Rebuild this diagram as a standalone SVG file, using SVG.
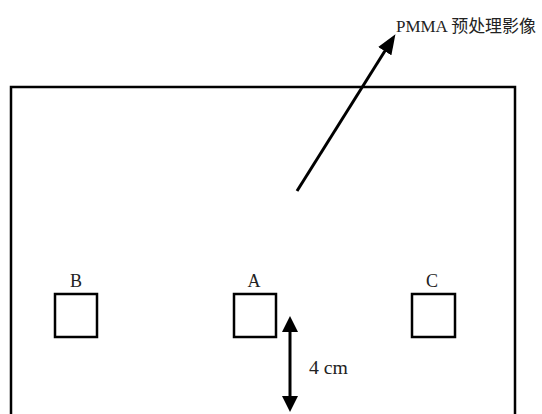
<svg xmlns="http://www.w3.org/2000/svg" width="542" height="414" viewBox="0 0 542 414">
<defs>
<style>
.box{fill:none;stroke:#000;stroke-width:2.5}
.frame{fill:none;stroke:#000;stroke-width:2.5}
.conn{stroke:#000;stroke-width:3;fill:none}
.lbl{font-family:"Liberation Serif","Noto Sans CJK SC",serif;font-size:18px;fill:#222}
.cap{font-family:"Liberation Serif","Noto Sans CJK SC",sans-serif;font-size:17px;fill:#222}
</style>
<marker id="ah" markerUnits="userSpaceOnUse" markerWidth="20" markerHeight="16" viewBox="0 0 18 14" refX="10" refY="7" orient="auto-start-reverse">
<path d="M0,0 L18,7 L0,14 z" fill="#000"/>
</marker>
<marker id="ah2" markerUnits="userSpaceOnUse" markerWidth="16" markerHeight="16" viewBox="0 0 16 16" refX="8" refY="8" orient="auto-start-reverse">
<path d="M0,0 L16,8 L0,16 z" fill="#000"/>
</marker>
</defs>
<rect width="542" height="414" fill="#fff"/>
<g id="frame">
<path class="frame" d="M11,420 L11,87 L515,87 L515,420"/>
</g>
<g id="caption">
<text class="cap" x="396" y="32" textLength="140" lengthAdjust="spacingAndGlyphs">PMMA 预处理影像</text>
</g>
<g id="nodeB">
<rect class="box" x="55" y="294" width="42" height="43"/>
<text class="lbl" x="76" y="287" text-anchor="middle">B</text>
</g>
<g id="nodeA">
<rect class="box" x="234" y="294" width="42" height="43"/>
<text class="lbl" x="254" y="287" text-anchor="middle">A</text>
</g>
<g id="nodeC">
<rect class="box" x="412" y="294" width="43" height="43"/>
<text class="lbl" x="432" y="287" text-anchor="middle">C</text>
</g>
<g id="dimLabel">
<text class="lbl" x="309" y="374" textLength="39" lengthAdjust="spacingAndGlyphs">4 cm</text>
</g>
<g id="connectors">
<line class="conn" x1="297" y1="191" x2="390.7" y2="41.8" marker-end="url(#ah)"/>
<line class="conn" x1="290" y1="324" x2="290" y2="404" marker-start="url(#ah2)" marker-end="url(#ah2)"/>
</g>
</svg>
